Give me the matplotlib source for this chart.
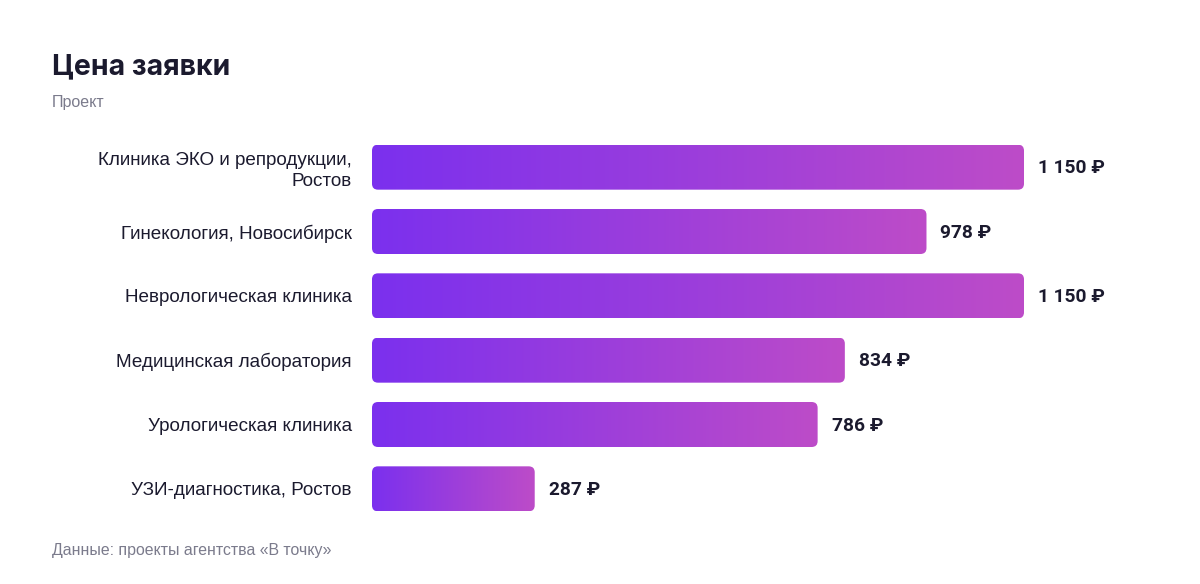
import numpy as np
import matplotlib
matplotlib.use("Agg")
import matplotlib.pyplot as plt
from matplotlib.patches import FancyBboxPatch
from matplotlib.colors import LinearSegmentedColormap

plt.rcParams['font.family'] = ['Liberation Sans', 'DejaVu Sans']

categories = ["Клиника ЭКО и репродукции,\nРостов", "Гинекология, Новосибирск",
              "Неврологическая клиника", "Медицинская лаборатория",
              "Урологическая клиника", "УЗИ-диагностика, Ростов"]
values = [1150, 978, 1150, 834, 786, 287]
value_labels = ["1 150 ₽", "978 ₽", "1 150 ₽", "834 ₽", "786 ₽", "287 ₽"]

W, H = 1200, 584
dark = "#1b1a2e"
grey = "#7b7b8c"
cmap = LinearSegmentedColormap.from_list("bar", ["#7b30ee", "#bd4cc8"])

fig = plt.figure(figsize=(W / 100, H / 100), dpi=100)
fig.patch.set_facecolor("white")

# axes in pixel box: left 372, right 1024, top 135, bottom 521
ax = fig.add_axes([372 / W, 1 - 521 / H, (1024 - 372) / W, (521 - 135) / H])
xmax = max(values)
n = len(values)

px_x = (1024 - 372) / xmax          # pixels per x unit
px_y = (521 - 135) / n              # pixels per y unit
bar_h = 45 / px_y
r = 6 / px_x
aspect = px_x / px_y

grad = np.linspace(0, 1, 256).reshape(1, -1)
for i, v in enumerate(values):
    patch = FancyBboxPatch((0, i - bar_h / 2), v, bar_h,
                           boxstyle=f"round,pad=0,rounding_size={r}",
                           mutation_aspect=aspect, facecolor="none",
                           edgecolor="none")
    ax.add_patch(patch)
    im = ax.imshow(grad, cmap=cmap, aspect="auto",
                   extent=(0, v, i + bar_h / 2, i - bar_h / 2),
                   interpolation="bicubic")
    im.set_clip_path(patch)
    ax.text(v + 14 / px_x, i + 0.02, value_labels[i], ha="left", va="center",
            fontsize=13.8, fontweight="bold", color=dark,
            family=["Roboto", "DejaVu Sans"])

ax.set_xlim(0, xmax)
ax.set_ylim(n - 0.5, -0.5)
ax.set_yticks(range(n))
ax.set_yticklabels(categories, fontsize=13.6, color=dark, linespacing=1.3)
ax.tick_params(axis="y", length=0, pad=14.5)
ax.set_xticks([])
for s in ax.spines.values():
    s.set_visible(False)
ax.set_facecolor("none")

fig.text(52 / W, 1 - 67 / H, "Цена заявки", fontsize=20.5, fontweight="bold",
         color=dark, va="center", ha="left", family=["Inter", "DejaVu Sans"])
fig.text(52 / W, 1 - 103 / H, "Проект", fontsize=11.5, color=grey,
         va="center", ha="left")
fig.text(52 / W, 1 - 550 / H, "Данные: проекты агентства «В точку»",
         fontsize=11.4, color=grey, va="center", ha="left")

fig.savefig("out.png", dpi=100)
